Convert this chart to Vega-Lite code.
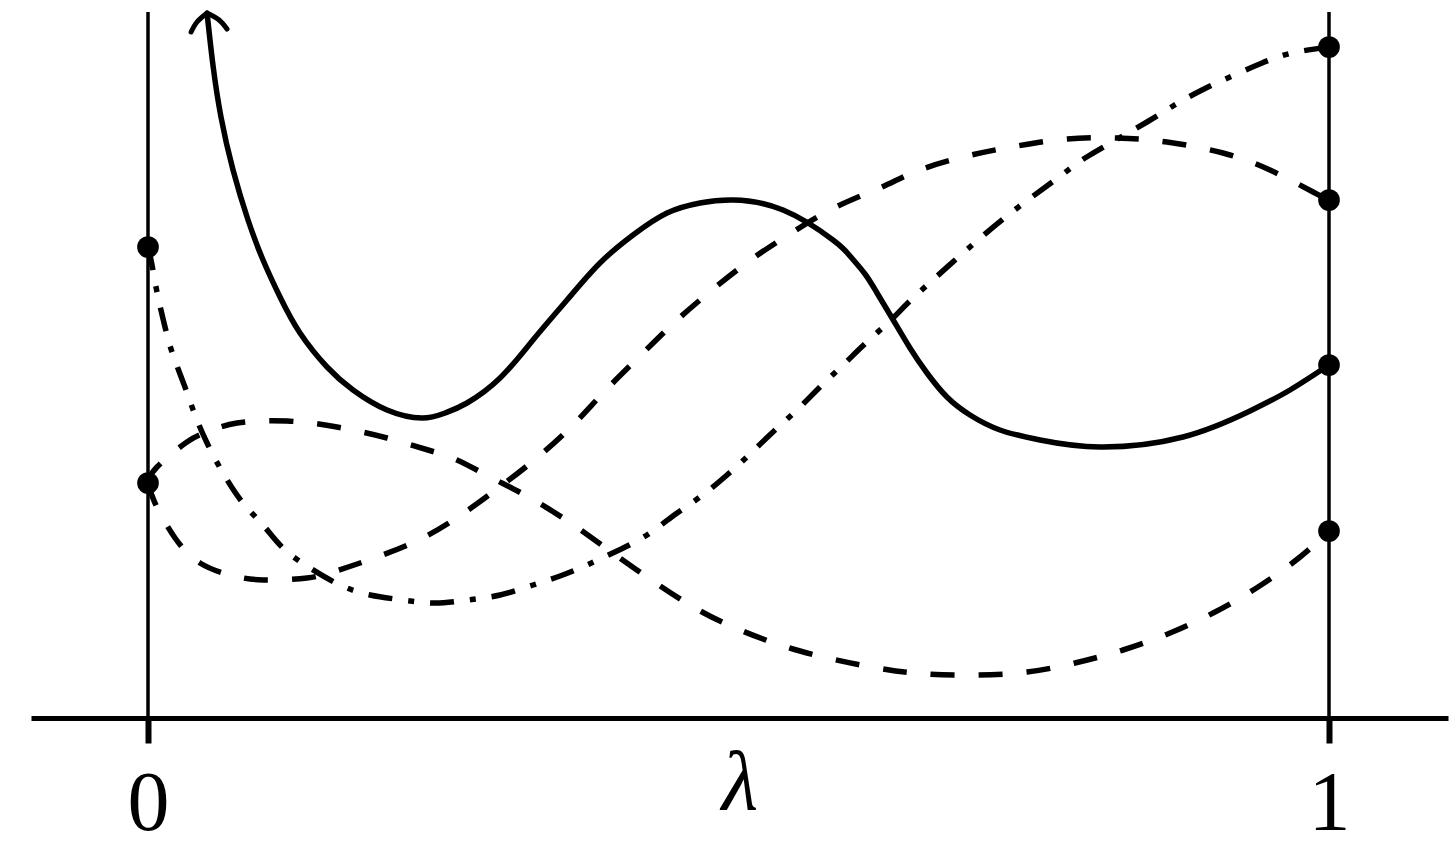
{
  "$schema": "https://vega.github.io/schema/vega-lite/v6.json",
  "width": 1417,
  "height": 718,
  "autosize": {"type": "none"},
  "padding": {"left": 31, "right": 3, "top": 0, "bottom": 138},
  "background": "white",
  "config": {"view": {"stroke": null}},
  "datasets": {
    "vlines": [
      {"lam": 0, "val": 0, "top": 7.06},
      {"lam": 1, "val": 0, "top": 7.06}
    ],
    "dots": [
      {"lam": 0, "val": 4.71},
      {"lam": 0, "val": 2.35},
      {"lam": 1, "val": 6.71},
      {"lam": 1, "val": 5.18},
      {"lam": 1, "val": 3.53},
      {"lam": 1, "val": 1.87}
    ],
    "curves": [
      {"c": "solid", "lam": 0.0500, "val": 7.05},
      {"c": "solid", "lam": 0.0550, "val": 6.53},
      {"c": "solid", "lam": 0.0618, "val": 6.01},
      {"c": "solid", "lam": 0.0720, "val": 5.48},
      {"c": "solid", "lam": 0.0847, "val": 4.98},
      {"c": "solid", "lam": 0.0974, "val": 4.58},
      {"c": "solid", "lam": 0.1118, "val": 4.21},
      {"c": "solid", "lam": 0.1287, "val": 3.85},
      {"c": "solid", "lam": 0.1516, "val": 3.51},
      {"c": "solid", "lam": 0.1736, "val": 3.28},
      {"c": "solid", "lam": 0.2024, "val": 3.08},
      {"c": "solid", "lam": 0.2320, "val": 3.00},
      {"c": "solid", "lam": 0.2515, "val": 3.05},
      {"c": "solid", "lam": 0.2701, "val": 3.15},
      {"c": "solid", "lam": 0.2981, "val": 3.40},
      {"c": "solid", "lam": 0.3260, "val": 3.78},
      {"c": "solid", "lam": 0.3548, "val": 4.18},
      {"c": "solid", "lam": 0.3827, "val": 4.55},
      {"c": "solid", "lam": 0.4107, "val": 4.83},
      {"c": "solid", "lam": 0.4395, "val": 5.05},
      {"c": "solid", "lam": 0.4674, "val": 5.15},
      {"c": "solid", "lam": 0.4953, "val": 5.18},
      {"c": "solid", "lam": 0.5377, "val": 5.08},
      {"c": "solid", "lam": 0.5800, "val": 4.78},
      {"c": "solid", "lam": 0.5944, "val": 4.62},
      {"c": "solid", "lam": 0.6071, "val": 4.44},
      {"c": "solid", "lam": 0.6173, "val": 4.25},
      {"c": "solid", "lam": 0.6300, "val": 4.00},
      {"c": "solid", "lam": 0.6452, "val": 3.70},
      {"c": "solid", "lam": 0.6596, "val": 3.45},
      {"c": "solid", "lam": 0.6765, "val": 3.21},
      {"c": "solid", "lam": 0.6960, "val": 3.03},
      {"c": "solid", "lam": 0.7214, "val": 2.88},
      {"c": "solid", "lam": 0.7553, "val": 2.78},
      {"c": "solid", "lam": 0.8061, "val": 2.71},
      {"c": "solid", "lam": 0.8764, "val": 2.81},
      {"c": "solid", "lam": 0.9331, "val": 3.07},
      {"c": "solid", "lam": 0.9670, "val": 3.28},
      {"c": "solid", "lam": 1.0, "val": 3.53},

      {"c": "arrowL", "lam": 0.0365, "val": 6.86},
      {"c": "arrowL", "lam": 0.0415, "val": 6.96},
      {"c": "arrowL", "lam": 0.0500, "val": 7.05},
      {"c": "arrowR", "lam": 0.0500, "val": 7.05},
      {"c": "arrowR", "lam": 0.0602, "val": 6.98},
      {"c": "arrowR", "lam": 0.0669, "val": 6.89},

      {"c": "dashdot", "lam": 0.0, "val": 4.71},
      {"c": "dashdot", "lam": 0.0034, "val": 4.53},
      {"c": "dashdot", "lam": 0.0076, "val": 4.26},
      {"c": "dashdot", "lam": 0.0144, "val": 3.91},
      {"c": "dashdot", "lam": 0.0212, "val": 3.63},
      {"c": "dashdot", "lam": 0.0313, "val": 3.31},
      {"c": "dashdot", "lam": 0.0398, "val": 3.03},
      {"c": "dashdot", "lam": 0.0500, "val": 2.75},
      {"c": "dashdot", "lam": 0.0635, "val": 2.45},
      {"c": "dashdot", "lam": 0.0804, "val": 2.15},
      {"c": "dashdot", "lam": 0.0974, "val": 1.93},
      {"c": "dashdot", "lam": 0.1143, "val": 1.70},
      {"c": "dashdot", "lam": 0.1372, "val": 1.50},
      {"c": "dashdot", "lam": 0.1626, "val": 1.33},
      {"c": "dashdot", "lam": 0.1880, "val": 1.23},
      {"c": "dashdot", "lam": 0.2159, "val": 1.18},
      {"c": "dashdot", "lam": 0.2430, "val": 1.15},
      {"c": "dashdot", "lam": 0.2701, "val": 1.18},
      {"c": "dashdot", "lam": 0.2981, "val": 1.23},
      {"c": "dashdot", "lam": 0.3260, "val": 1.33},
      {"c": "dashdot", "lam": 0.3489, "val": 1.42},
      {"c": "dashdot", "lam": 0.3717, "val": 1.53},
      {"c": "dashdot", "lam": 0.3971, "val": 1.67},
      {"c": "dashdot", "lam": 0.4225, "val": 1.83},
      {"c": "dashdot", "lam": 0.4445, "val": 2.02},
      {"c": "dashdot", "lam": 0.4674, "val": 2.21},
      {"c": "dashdot", "lam": 0.4903, "val": 2.43},
      {"c": "dashdot", "lam": 0.5097, "val": 2.64},
      {"c": "dashdot", "lam": 0.5292, "val": 2.86},
      {"c": "dashdot", "lam": 0.5495, "val": 3.08},
      {"c": "dashdot", "lam": 0.5690, "val": 3.31},
      {"c": "dashdot", "lam": 0.5885, "val": 3.53},
      {"c": "dashdot", "lam": 0.6088, "val": 3.76},
      {"c": "dashdot", "lam": 0.6308, "val": 4.00},
      {"c": "dashdot", "lam": 0.6478, "val": 4.20},
      {"c": "dashdot", "lam": 0.6892, "val": 4.64},
      {"c": "dashdot", "lam": 0.7316, "val": 5.06},
      {"c": "dashdot", "lam": 0.7748, "val": 5.44},
      {"c": "dashdot", "lam": 0.7976, "val": 5.63},
      {"c": "dashdot", "lam": 0.8459, "val": 5.96},
      {"c": "dashdot", "lam": 0.8679, "val": 6.12},
      {"c": "dashdot", "lam": 0.8925, "val": 6.28},
      {"c": "dashdot", "lam": 0.9179, "val": 6.42},
      {"c": "dashdot", "lam": 0.9433, "val": 6.55},
      {"c": "dashdot", "lam": 0.9687, "val": 6.65},
      {"c": "dashdot", "lam": 1.0, "val": 6.71},

      {"c": "dashA", "lam": 0.0, "val": 2.35},
      {"c": "dashA", "lam": 0.0059, "val": 2.15},
      {"c": "dashA", "lam": 0.0229, "val": 1.80},
      {"c": "dashA", "lam": 0.0440, "val": 1.55},
      {"c": "dashA", "lam": 0.0694, "val": 1.43},
      {"c": "dashA", "lam": 0.0974, "val": 1.38},
      {"c": "dashA", "lam": 0.1346, "val": 1.40},
      {"c": "dashA", "lam": 0.1566, "val": 1.46},
      {"c": "dashA", "lam": 0.1820, "val": 1.56},
      {"c": "dashA", "lam": 0.2218, "val": 1.74},
      {"c": "dashA", "lam": 0.2574, "val": 1.97},
      {"c": "dashA", "lam": 0.2921, "val": 2.26},
      {"c": "dashA", "lam": 0.3251, "val": 2.56},
      {"c": "dashA", "lam": 0.3573, "val": 2.90},
      {"c": "dashA", "lam": 0.3861, "val": 3.26},
      {"c": "dashA", "lam": 0.4157, "val": 3.61},
      {"c": "dashA", "lam": 0.4462, "val": 3.96},
      {"c": "dashA", "lam": 0.4776, "val": 4.28},
      {"c": "dashA", "lam": 0.5114, "val": 4.59},
      {"c": "dashA", "lam": 0.5461, "val": 4.86},
      {"c": "dashA", "lam": 0.5826, "val": 5.11},
      {"c": "dashA", "lam": 0.6215, "val": 5.31},
      {"c": "dashA", "lam": 0.6511, "val": 5.47},
      {"c": "dashA", "lam": 0.6935, "val": 5.62},
      {"c": "dashA", "lam": 0.7358, "val": 5.72},
      {"c": "dashA", "lam": 0.7782, "val": 5.79},
      {"c": "dashA", "lam": 0.8205, "val": 5.80},
      {"c": "dashA", "lam": 0.8628, "val": 5.76},
      {"c": "dashA", "lam": 0.9102, "val": 5.65},
      {"c": "dashA", "lam": 0.9500, "val": 5.48},
      {"c": "dashA", "lam": 0.9865, "val": 5.26},
      {"c": "dashA", "lam": 1.0, "val": 5.18},

      {"c": "dashB", "lam": 0.0, "val": 2.35},
      {"c": "dashB", "lam": 0.0076, "val": 2.51},
      {"c": "dashB", "lam": 0.0330, "val": 2.76},
      {"c": "dashB", "lam": 0.0500, "val": 2.86},
      {"c": "dashB", "lam": 0.0754, "val": 2.95},
      {"c": "dashB", "lam": 0.1177, "val": 2.97},
      {"c": "dashB", "lam": 0.1600, "val": 2.91},
      {"c": "dashB", "lam": 0.2024, "val": 2.80},
      {"c": "dashB", "lam": 0.2371, "val": 2.68},
      {"c": "dashB", "lam": 0.2616, "val": 2.58},
      {"c": "dashB", "lam": 0.2896, "val": 2.41},
      {"c": "dashB", "lam": 0.3175, "val": 2.24},
      {"c": "dashB", "lam": 0.3514, "val": 2.00},
      {"c": "dashB", "lam": 0.3853, "val": 1.72},
      {"c": "dashB", "lam": 0.4225, "val": 1.41},
      {"c": "dashB", "lam": 0.4589, "val": 1.13},
      {"c": "dashB", "lam": 0.4953, "val": 0.91},
      {"c": "dashB", "lam": 0.5521, "val": 0.67},
      {"c": "dashB", "lam": 0.6173, "val": 0.50},
      {"c": "dashB", "lam": 0.6596, "val": 0.44},
      {"c": "dashB", "lam": 0.7019, "val": 0.43},
      {"c": "dashB", "lam": 0.7443, "val": 0.46},
      {"c": "dashB", "lam": 0.7849, "val": 0.55},
      {"c": "dashB", "lam": 0.8256, "val": 0.68},
      {"c": "dashB", "lam": 0.8654, "val": 0.85},
      {"c": "dashB", "lam": 0.9035, "val": 1.06},
      {"c": "dashB", "lam": 0.9399, "val": 1.31},
      {"c": "dashB", "lam": 0.9755, "val": 1.61},
      {"c": "dashB", "lam": 1.0, "val": 1.87}
    ]
  },
  "encoding": {
    "x": {
      "field": "lam",
      "type": "quantitative",
      "scale": {"domain": [-0.09907, 1.10076], "nice": false, "zero": false},
      "axis": {
        "values": [0, 1],
        "format": "d",
        "title": "λ",
        "grid": false,
        "domainColor": "black",
        "domainWidth": 5,
        "domainCap": "butt",
        "tickColor": "black",
        "tickWidth": 6,
        "tickSize": 25,
        "labelFont": "Liberation Serif",
        "labelFontSize": 84,
        "labelColor": "black",
        "labelBaseline": "alphabetic",
        "labelPadding": 86,
        "labelFlush": false,
        "labelOverlap": false,
        "titleFont": "Liberation Serif",
        "titleFontSize": 84,
        "titleFontStyle": "italic",
        "titleFontWeight": "normal",
        "titleColor": "black",
        "titleBaseline": "alphabetic",
        "titleY": 90
      }
    },
    "y": {
      "field": "val",
      "type": "quantitative",
      "scale": {"domain": [0, 7.18], "nice": false, "zero": false},
      "axis": null
    }
  },
  "layer": [
    {
      "data": {"name": "vlines"},
      "mark": {"type": "rule", "color": "black", "strokeWidth": 3.5},
      "encoding": {"y2": {"field": "top"}}
    },
    {
      "data": {"name": "curves"},
      "transform": [{"filter": "datum.c === 'solid'"}],
      "mark": {"type": "line", "color": "black", "strokeWidth": 5.5, "interpolate": "natural", "strokeCap": "butt"},
      "encoding": {}
    },
    {
      "data": {"name": "curves"},
      "transform": [{"filter": "datum.c === 'arrowL' || datum.c === 'arrowR'"}],
      "mark": {"type": "line", "color": "black", "strokeWidth": 5, "interpolate": "natural", "strokeCap": "round", "strokeJoin": "round"},
      "encoding": {"detail": {"field": "c"}}
    },
    {
      "data": {"name": "curves"},
      "transform": [{"filter": "datum.c === 'dashA' || datum.c === 'dashB'"}],
      "mark": {"type": "line", "color": "black", "strokeWidth": 5.5, "interpolate": "natural", "strokeDash": [24, 24]},
      "encoding": {"detail": {"field": "c"}}
    },
    {
      "data": {"name": "curves"},
      "transform": [{"filter": "datum.c === 'dashdot'"}],
      "mark": {"type": "line", "color": "black", "strokeWidth": 5.5, "interpolate": "natural", "strokeDash": [24, 16, 6, 16]},
      "encoding": {}
    },
    {
      "data": {"name": "dots"},
      "mark": {"type": "point", "filled": true, "color": "black", "opacity": 1, "size": 470, "shape": "circle"},
      "encoding": {}
    }
  ]
}
